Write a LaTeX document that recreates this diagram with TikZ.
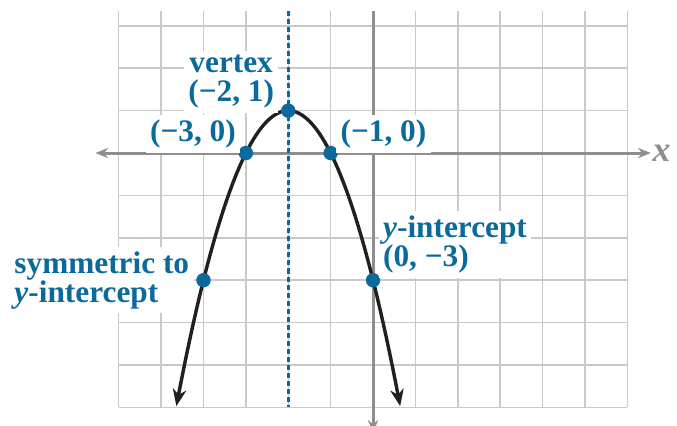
\documentclass[tikz,border=0pt]{standalone}
\usepackage{fontspec}
\setmainfont{Liberation Serif}
\usetikzlibrary{arrows.meta,positioning}
\definecolor{PtBlue}{HTML}{0B6A9B}
\definecolor{AxisGray}{HTML}{8E8E8E}
\definecolor{GridGray}{HTML}{C9C9C9}
\definecolor{CurveBlack}{HTML}{231F20}

\begin{document}
\begin{tikzpicture}[
  x=1cm,y=1cm,
  gridline/.style={draw=GridGray,line width=1pt},
  axis/.style={
    draw=AxisGray,
    line width=2pt
  },
  symline/.style={draw=PtBlue,line width=2pt,dash pattern=on 3.4pt off 2pt},
  curve/.style={
    draw=CurveBlack,
    line width=2.3pt,
    {Stealth[length=4mm,width=3.2mm]}-{Stealth[length=4mm,width=3.2mm]}
  },
  dot/.style={circle,fill=PtBlue,inner sep=0pt,minimum size=3.4mm},
  note/.style={
    fill=white,
    text=PtBlue,
    inner sep=3pt,
    font=\bfseries\fontsize{21}{19.5}\selectfont
  },
  axislabel/.style={text=AxisGray,font=\bfseries\itshape\fontsize{24}{24}\selectfont}
]
\useasboundingbox (-8.8,-6.42) rectangle (7.17,3.61);
\clip (-8.8,-6.42) rectangle (7.17,3.61);

% grid
\draw[gridline] (-6,-6) grid (6,3);
\foreach \x in {-6,...,6}
  \draw[gridline] (\x,3) -- (\x,3.35);

% axes
\coordinate (xleft) at (-6.55,0);
\coordinate (xright) at (6.55,0);
\coordinate (ytop) at (0,3.35);
\coordinate (ybottom) at (0,-6.6);
\draw[axis,{Stealth[length=3mm,width=2.4mm]}-{Stealth[length=3mm,width=2.4mm]}] (xleft) -- (xright);
\draw[axis,-{Stealth[length=3mm,width=2.4mm]}] (ytop) -- (ybottom);
\node[axislabel,right=-0.8mm of xright] (xlab) {x};

% axis of symmetry
\coordinate (symtop) at (-2,3.35);
\coordinate (symbottom) at (-2,-6);
\draw[symline] (symtop) -- (symbottom);

% parabola
\draw[curve] plot[domain=-4.64:0.64,samples=80] (\x,{-(\x+2)^2+1});

% points
\node[dot] (vtx) at (-2,1) {};
\node[dot] (xneg3) at (-3,0) {};
\node[dot] (xneg1) at (-1,0) {};
\node[dot] (yint) at (0,-3) {};
\node[dot] (sym) at (-4,-3) {};

% labels
\node[note,align=center,above left=-1.9mm and 1mm of vtx] (vtxlab) {vertex\\(−2, 1)};
\node[note,above left=-1.2mm and 0mm of xneg3] (xneg3lab) {(−3, 0)};
\node[note,above right=-1.2mm and 0mm of xneg1] (xneg1lab) {(−1, 0)};
\node[note,align=left,above right=-0.7mm and 0mm of yint] (yintlab) {\textit{y}-intercept\\(0, −3)};
\node[note,align=left,left=0.5mm of sym] (symlab) {symmetric to\\\textit{y}-intercept};
\end{tikzpicture}
\end{document}
